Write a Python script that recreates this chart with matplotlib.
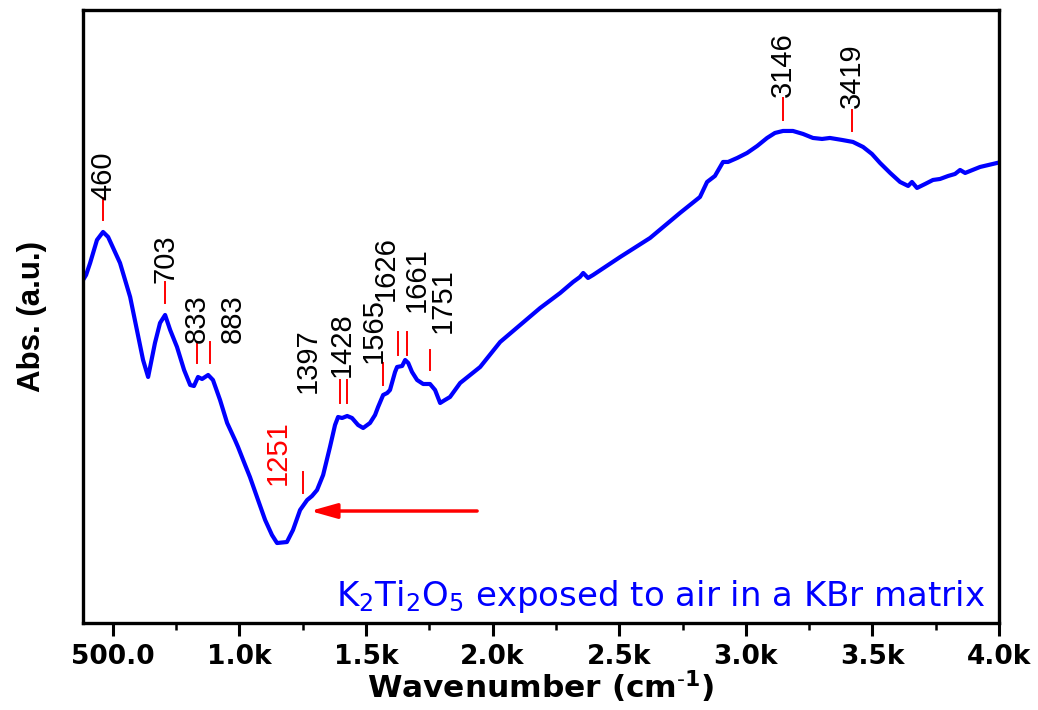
import matplotlib
matplotlib.use("Agg")
import matplotlib.pyplot as plt
from matplotlib.ticker import FixedLocator, FuncFormatter, MultipleLocator

plt.rcParams['font.family'] = ['Liberation Sans', 'DejaVu Sans']
plt.rcParams['mathtext.fontset'] = 'custom'
plt.rcParams['mathtext.rm'] = 'DejaVu Sans'
plt.rcParams['mathtext.it'] = 'DejaVu Sans'
plt.rcParams['mathtext.bf'] = 'DejaVu Sans:bold'
plt.rcParams['mathtext.default'] = 'regular'

# ---- data ----
wavenumber = [383, 395, 411, 438, 462, 482, 529, 569, 620, 640, 667, 687, 707, 727,
              754, 782, 806, 821, 837, 853, 877, 896, 924, 952, 983, 995, 1023, 1042,
              1074, 1102, 1129, 1149, 1188, 1212, 1240, 1268, 1287, 1307, 1331, 1358,
              1378, 1390, 1406, 1426, 1445, 1469, 1489, 1516, 1536, 1548, 1568, 1584,
              1595, 1615, 1623, 1643, 1655, 1667, 1682, 1702, 1726, 1753, 1773, 1793,
              1812, 1832, 1872, 1951, 2030, 2109, 2188, 2267, 2318, 2345, 2358, 2377,
              2397, 2504, 2622, 2740, 2819, 2847, 2878, 2910, 2930, 2966, 3005, 3045,
              3084, 3115, 3147, 3186, 3226, 3265, 3301, 3332, 3380, 3423, 3463, 3498,
              3530, 3570, 3609, 3641, 3656, 3676, 3708, 3739, 3767, 3799, 3826, 3846,
              3866, 3925, 3992]
absorbance = [3.43, 3.48, 3.60, 3.83, 3.91, 3.86, 3.60, 3.26, 2.63, 2.46, 2.80, 3.00, 3.08, 2.93,
              2.76, 2.53, 2.38, 2.37, 2.46, 2.44, 2.48, 2.43, 2.23, 2.00, 1.83, 1.76, 1.58, 1.46,
              1.23, 1.03, 0.88, 0.80, 0.81, 0.93, 1.13, 1.23, 1.27, 1.33, 1.48, 1.76,
              1.98, 2.06, 2.05, 2.07, 2.05, 1.98, 1.95, 2.00, 2.08, 2.16, 2.28, 2.30,
              2.33, 2.51, 2.56, 2.57, 2.63, 2.60, 2.51, 2.43, 2.39, 2.39, 2.33, 2.20,
              2.23, 2.26, 2.40, 2.56, 2.81, 2.98, 3.15, 3.30, 3.41, 3.46, 3.50, 3.45,
              3.48, 3.66, 3.85, 4.10, 4.26, 4.41, 4.47, 4.61, 4.61, 4.65, 4.70, 4.77,
              4.85, 4.90, 4.92, 4.92, 4.89, 4.85, 4.84, 4.85, 4.83, 4.81, 4.76, 4.69,
              4.60, 4.50, 4.41, 4.37, 4.41, 4.35, 4.39, 4.43, 4.44, 4.47, 4.49, 4.53,
              4.50, 4.56, 4.60]

peak_labels = ['460', '703', '833', '883', '1397', '1428', '1565', '1626', '1661', '1751', '1251', '3146', '3419']
peak_positions = [462, 707, 833, 885, 1398, 1426, 1568, 1627, 1662, 1753, 1252, 3147, 3420]
peak_colors = ['black'] * 10 + ['red'] + ['black'] * 2

x_ticks = [500, 1000, 1500, 2000, 2500, 3000, 3500, 4000]
x_tick_labels = ['500.0', '1.0k', '1.5k', '2.0k', '2.5k', '3.0k', '3.5k', '4.0k']

# ---- layout for annotations (marker segment bottom/top, text anchor x/y) ----
mark_bottom = [4.03, 3.20, 2.60, 2.60, 2.20, 2.20, 2.38, 2.68, 2.68, 2.53, 1.30, 5.03, 4.92]
mark_top =    [4.25, 3.41, 2.81, 2.81, 2.43, 2.43, 2.60, 2.91, 2.91, 2.73, 1.51, 5.25, 5.13]
text_x =      [465, 707, 833, 975, 1272, 1406, 1532, 1580, 1702, 1805, 1153, 3147, 3420]
text_y =      [4.23, 3.40, 2.80, 2.80, 2.30, 2.46, 2.60, 3.22, 3.11, 2.90, 1.38, 5.26, 5.15]

fig = plt.figure(figsize=(10.38, 7.10), dpi=100)
ax = fig.add_axes([0.080, 0.1225, 0.8825, 0.8635])

ax.plot(wavenumber, absorbance, color='#0000ff', lw=3.0, solid_joinstyle='round')

for i, lab in enumerate(peak_labels):
    ax.plot([peak_positions[i], peak_positions[i]], [mark_bottom[i], mark_top[i]],
            color='red', lw=1.4)
    ax.text(text_x[i], text_y[i], lab, rotation=90, ha='center', va='bottom',
            fontsize=21, color=peak_colors[i])

ax.annotate('', xy=(1280, 1.12), xytext=(1939, 1.12),
            arrowprops=dict(arrowstyle='-|>,head_length=1.6,head_width=0.45',
                            color='red', lw=2.5, shrinkA=0, shrinkB=0))

ax.text(0.985, 0.043, 'K$_2$Ti$_2$O$_5$ exposed to air in a KBr matrix',
        transform=ax.transAxes, ha='right', va='center', fontsize=24.5,
        color='#0000ff', family='DejaVu Sans')

ax.set_xlim(383, 4000)
ax.set_ylim(0, 6.13)
ax.xaxis.set_major_locator(FixedLocator(x_ticks))
ax.xaxis.set_major_formatter(FuncFormatter(lambda v, p: x_tick_labels[x_ticks.index(int(round(v)))] if int(round(v)) in x_ticks else ''))
ax.xaxis.set_minor_locator(MultipleLocator(250))
ax.set_yticks([])
ax.tick_params(axis='x', which='major', direction='out', length=9, width=2.2,
               labelsize=19, pad=6)
ax.tick_params(axis='x', which='minor', direction='out', length=5, width=1.8)
for lbl in ax.get_xticklabels():
    lbl.set_fontweight('bold')
    lbl.set_family('DejaVu Sans')
for s in ax.spines.values():
    s.set_linewidth(2.4)

ax.set_xlabel(r'Wavenumber (cm$^{\text{-}1}$)', fontsize=22.5, fontweight='bold',
              labelpad=-1, family='DejaVu Sans')
ax.set_ylabel('Abs. (a.u.)', fontsize=22.5, fontweight='bold', labelpad=26)

fig.savefig('out.png', dpi=100)
